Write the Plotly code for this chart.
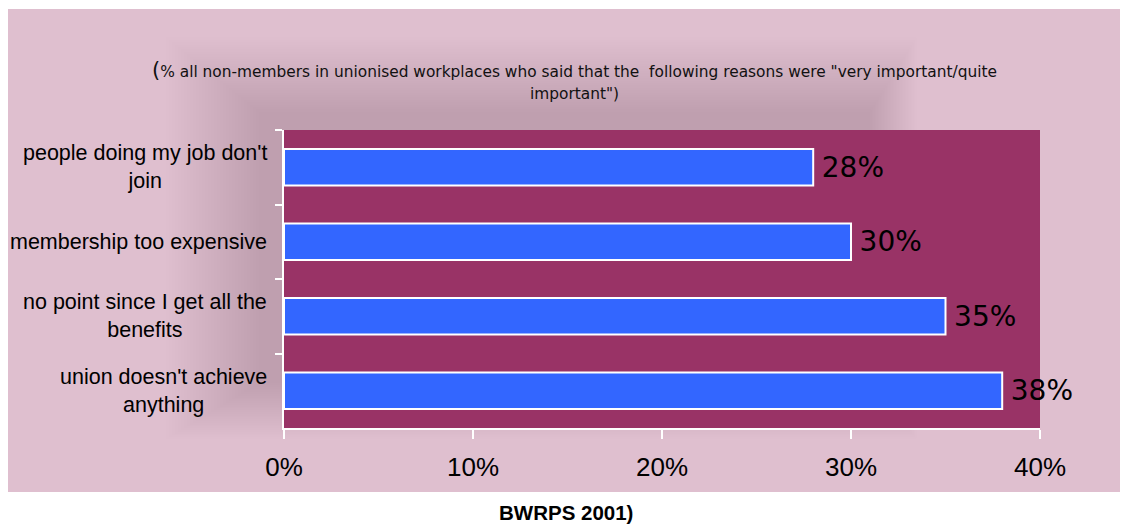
import plotly.graph_objects as go

categories = ["people doing my job don't<br>join",
              "membership too expensive",
              "no point since I get all the<br>benefits",
              "union doesn't achieve<br>anything"]
values = [28, 30, 35, 38]
x_ticks = [0, 10, 20, 30, 40]
x_ticktext = ["0%", "10%", "20%", "30%", "40%"]
title_line1 = ("<span style='font-size:21px'>(</span>% all non-members in unionised workplaces who said that the  "
               "following reasons were \"very important/quite")
title_line2 = "important\")"
source_text = "BWRPS 2001)"

W, H = 1128, 525
L, R, T, B = 284, 1040, 130, 428


def px(x):
    return (x - L) / (R - L)


def py(y):
    return (B - y) / (B - T)


fig = go.Figure()
fig.add_trace(go.Bar(
    y=categories, x=values, orientation="h",
    marker=dict(color="#3366ff", line=dict(color="white", width=2)),
    width=0.49,
    text=["\u2009%d%%" % v for v in values],
    textposition="outside",
    textfont=dict(family="DejaVu Sans", size=28, color="black"),
    constraintext="none",
    cliponaxis=False,
    hoverinfo="skip",
))

shapes = []
# pink background panel
shapes.append(dict(type="rect", xref="paper", yref="paper", x0=px(8), x1=px(1120), y0=py(492), y1=py(9),
                   fillcolor="#dfbfcf", line=dict(width=0), layer="below"))
# soft shadow around plot area (offset up-left)
n = 32
for i in range(n):
    e = i * 3
    shapes.append(dict(type="rect", xref="paper", yref="paper",
                       x0=px(L - 25 - e), x1=px(R - 170 + e * 0.5), y0=py(B - 45 + e * 0.6), y1=py(T - 18 - e * 0.8),
                       fillcolor="#7c4563", opacity=0.0085, line=dict(width=0), layer="below"))
# plot area
shapes.append(dict(type="rect", xref="paper", yref="paper", x0=0, x1=1, y0=0, y1=1,
                   fillcolor="#993366", line=dict(width=0), layer="below"))

annotations = []
for c in categories:
    annotations.append(dict(xref="paper", yref="y", x=0, y=c, xanchor="right", yanchor="middle",
                            xshift=-15, text=c, showarrow=False, align="center",
                            font=dict(family="Liberation Sans, Arial", size=21.5, color="black")))
annotations.append(dict(xref="paper", yref="paper", x=px(574), y=py(70), xanchor="center", yanchor="middle",
                        text=title_line1, showarrow=False, align="center",
                        font=dict(family="DejaVu Sans, Verdana", size=15.4, color="#111111")))
annotations.append(dict(xref="paper", yref="paper", x=px(574), y=py(94), xanchor="center", yanchor="middle",
                        text=title_line2, showarrow=False, align="center",
                        font=dict(family="DejaVu Sans, Verdana", size=15.4, color="#111111")))
annotations.append(dict(xref="paper", yref="paper", x=px(566), y=py(512), xanchor="center", yanchor="middle",
                        text="<b>" + source_text + "</b>", showarrow=False,
                        font=dict(family="Liberation Sans, Arial", size=20.5, color="black")))

fig.update_layout(
    width=W, height=H,
    margin=dict(l=L, r=W - R, t=T, b=H - B, pad=0),
    paper_bgcolor="white",
    plot_bgcolor="rgba(0,0,0,0)",
    showlegend=False,
    bargap=0.51,
    shapes=shapes,
    annotations=annotations,
    xaxis=dict(range=[0, 40], tickvals=x_ticks, ticktext=x_ticktext, showgrid=False, zeroline=False,
               showline=True, linecolor="white", linewidth=2,
               ticks="outside", ticklen=9, tickwidth=2, tickcolor="white",
               ticklabelstandoff=6,
               tickfont=dict(family="Liberation Sans, Arial", size=26, color="black")),
    yaxis=dict(autorange="reversed", showgrid=False, zeroline=False, showline=True, linecolor="white",
               linewidth=2, ticks="outside", ticklen=7, tickwidth=2, tickcolor="white",
               tickson="boundaries", showticklabels=False),
)

fig.write_html("out.html")
